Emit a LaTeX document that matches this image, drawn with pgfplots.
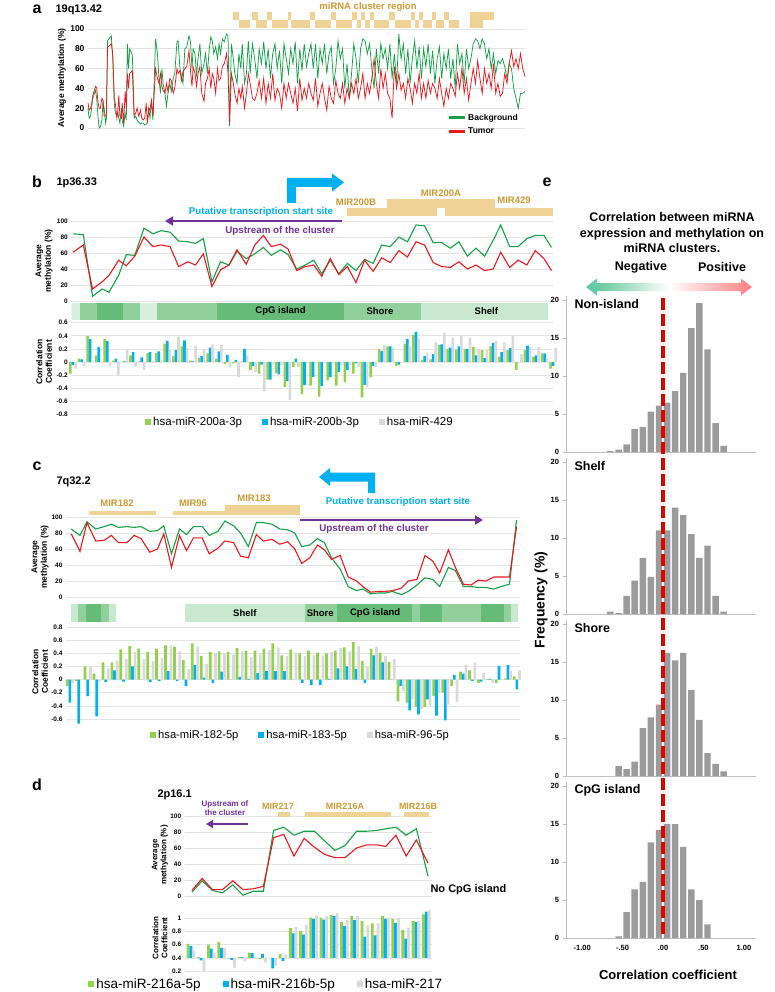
\documentclass[border=0pt]{standalone}
\usepackage{pgfplots}
\pgfplotsset{compat=1.18}
\usepackage{pgfplotstable}
\usepackage{fontspec}
\setmainfont{Liberation Sans}
\usetikzlibrary{arrows.meta}

\definecolor{lgreen}{RGB}{20,160,70}
\definecolor{lred}{RGB}{235,25,30}
\definecolor{bargreen}{RGB}{146,208,80}
\definecolor{barblue}{RGB}{0,176,240}
\definecolor{bargray}{RGB}{217,217,217}
\definecolor{goldfill}{RGB}{240,210,150}
\definecolor{goldtext}{RGB}{204,153,51}
\definecolor{arrowblue}{RGB}{0,176,240}
\definecolor{purp}{RGB}{112,48,160}
\definecolor{gridc}{RGB}{228,228,228}
\definecolor{bD}{RGB}{102,187,121}
\definecolor{bM}{RGB}{145,207,157}
\definecolor{bL}{RGB}{200,232,208}
\definecolor{bVL}{RGB}{218,240,223}
\definecolor{histg}{RGB}{155,155,155}
\definecolor{axg}{RGB}{190,190,190}
\definecolor{mint}{RGB}{110,205,160}

\newcommand{\fs}[2]{\fontsize{#1}{#2}\selectfont}
\newcommand{\seg}[3]{\addplot[fill=#3, draw=none] coordinates {(#1,0)(#2,0)(#2,1)(#1,1)};}
\newcommand{\blk}[4]{\addplot[fill=goldfill, draw=none] coordinates {(#1,#3)(#2,#3)(#2,#4)(#1,#4)};}
\pgfdeclarehorizontalshading{gradarrow}{100bp}{color(0bp)=(arrowblue); color(30bp)=(mint); color(50bp)=(white); color(100bp)=(red)}

\pgfplotsset{
  place/.style n args={4}{scale only axis, at={(#1pt,-#2pt)}, anchor=north west, width=#3pt, height=#4pt},
  every axis/.append style={/pgf/number format/assume math mode=true},
  lineax/.style={axis line style={draw=none}, tick style={draw=none}, major tick length=0pt,
    xtick=\empty, ymajorgrids, grid style={gridc, line width=0.6pt}, ymin=0, ymax=100,
    ytick={0,20,40,60,80,100}, clip=false},
  barax/.style={axis line style={draw=none}, tick style={draw=none}, major tick length=0pt,
    xtick=\empty, ymajorgrids, grid style={gridc, line width=0.6pt}, ybar=0pt, clip=false},
  histax/.style={xmin=-1.2, xmax=1.15, ymin=0, ymax=20.5, ytick={0,5,10,15,20},
    axis x line*=bottom, axis y line*=left, axis line style={axg, -, line width=0.6pt},
    ytick style={axg, line width=0.6pt}, tick align=outside, major tick length=3.5pt,
    xtick=\empty, x tick style={draw=none}, ybar, bar width=0.08,
    yticklabel style={font=\bfseries\fs{7.5}{9}}},
}

% panel a: average methylation along 19q13.42
\pgfplotstableread{
x g r
258 20 25
261 10 18
265 12 20
268 22 25
271 30 33
275 35 38
278 38 42
281 30 41
285 10 25
288 0 20
291 1 20
295 8 30
298 27 28
301 20 12
305 5 12
307 10 15
310 88 82
315 91 83
320 93 85
324 70 75
328 25 30
331 15 24
335 12 10
338 15 20
340 10 33
343 5 12
347 20 10
349 8 25
353 2 5
357 15 37
360 8 20
363 85 55
366 60 40
369 80 55
376 74 58
379 40 30
381 10 13
385 12 15
389 8 20
393 6 12
398 4 18
401 5 10
405 5 8
409 3 10
413 4 25
416 5 5
420 20 20
423 10 18
427 27 28
431 8 12
438 90 60
443 75 50
447 50 45
451 35 55
455 60 42
458 45 38
463 35 35
467 22 45
471 35 37
476 45 50
480 37 48
485 50 35
489 55 40
495 87 60
498 88 55
503 60 58
507 52 48
511 45 57
516 80 60
521 82 62
527 93 78
531 87 58
535 60 42
538 80 62
543 75 55
547 52 42
551 70 55
556 85 62
561 55 35
567 65 27
571 75 45
576 55 50
581 80 60
585 92 40
589 88 55
593 75 50
598 82 35
603 70 60
607 85 48
611 75 50
616 90 62
621 87 65
627 95 75
631 93 55
635 2 5
640 85 55
645 70 45
649 55 35
655 45 25
660 75 40
665 60 30
669 85 42
675 45 20
680 55 35
685 88 55
690 55 45
696 85 30
702 70 28
708 50 35
714 80 48
720 65 30
726 87 50
732 60 25
738 80 45
744 50 30
750 75 55
756 85 28
762 60 40
768 78 35
774 45 20
780 85 45
786 70 30
792 55 45
798 80 35
804 65 25
810 87 40
816 45 17
822 80 50
828 58 28
834 85 40
840 62 30
846 75 45
852 85 35
858 60 28
864 85 50
870 50 22
876 80 35
882 65 45
888 85 30
894 55 18
900 75 42
906 82 30
912 45 25
918 60 48
924 88 35
930 70 30
936 80 45
942 40 25
948 65 40
954 30 30
960 55 45
966 85 35
972 70 50
978 45 30
984 80 40
990 90 55
996 88 30
1002 75 45
1008 85 35
1014 60 50
1020 40 70
1026 80 45
1032 55 30
1038 85 60
1044 70 40
1050 80 55
1056 60 35
1062 85 30
1068 50 10
1074 75 62
1080 45 40
1086 95 55
1092 70 38
1098 85 45
1104 55 30
1110 80 50
1116 45 40
1122 70 25
1128 88 45
1134 60 35
1140 82 55
1146 50 30
1152 80 45
1158 62 30
1164 85 48
1170 55 35
1176 78 45
1182 45 40
1188 70 30
1194 82 50
1200 50 35
1206 75 22
1212 60 40
1218 80 30
1224 50 45
1230 70 40
1236 40 32
1242 85 55
1248 65 40
1254 75 60
1260 45 35
1266 80 50
1272 60 28
1278 70 45
1284 85 60
1290 90 45
1296 88 68
1302 80 50
1308 90 35
1314 85 60
1320 70 45
1326 80 55
1332 60 40
1338 75 65
1344 55 35
1350 68 45
1356 65 32
1362 70 35
1368 62 55
1374 50 45
1380 65 65
1386 60 78
1392 40 62
1398 30 70
1404 20 60
1410 35 75
1416 35 60
1422 37 52
}\tA

% panel b: 1p36.33
\pgfplotstableread{
x g r
135 84 61
165 83 70
192 6 15
220 15 24
240 11 32
268 32 51
290 58 44
315 57 56
342 91 80
368 84 68
392 88 70
418 86 68
443 75 43
470 74 49
492 72 45
515 78 59
540 24 18
565 49 39
590 45 45
613 62 64
640 53 46
665 59 70
690 67 82
713 57 68
740 64 71
762 58 65
787 40 38
812 45 43
837 51 45
860 34 31
885 51 53
910 34 33
935 47 43
960 38 23
985 52 51
1010 47 37
1035 70 54
1060 68 48
1085 80 63
1110 74 55
1135 95 74
1160 94 70
1185 73 48
1210 73 43
1235 66 42
1260 74 49
1285 56 40
1310 66 45
1335 56 38
1360 76 40
1382 95 61
1408 68 42
1433 68 51
1458 78 45
1483 82 63
1508 82 53
1530 67 38
}\tB

\pgfplotstableread{
k g b w
0 -0.18 -0.05 -0.10
1 0.05 0.04 -0.06
2 0.40 0.35 0.00
3 0.10 0.23 0.00
4 0.35 0.32 -0.06
5 0.02 0.05 -0.21
6 0.00 0.01 0.19
7 0.10 0.15 -0.07
8 0.01 0.07 -0.12
9 0.14 0.15 0.02
10 0.14 0.16 0.02
11 0.28 0.32 0.20
12 0.09 0.18 0.38
13 0.24 0.33 0.22
14 0.02 0.01 0.25
15 0.06 0.09 0.20
16 0.13 0.22 0.27
17 0.05 0.16 0.26
18 -0.03 0.11 -0.07
19 -0.02 0.03 -0.23
20 0.01 0.20 0.10
21 -0.12 -0.06 -0.15
22 -0.18 -0.04 -0.45
23 -0.27 -0.27 -0.03
24 -0.17 -0.19 -0.05
25 -0.38 -0.29 -0.58
26 -0.08 0.05 -0.08
27 -0.49 -0.35 -0.02
28 -0.36 -0.23 -0.02
29 -0.53 -0.37 -0.02
30 -0.28 -0.23 -0.02
31 -0.36 -0.15 -0.05
32 -0.31 -0.12 -0.05
33 -0.18 -0.02 -0.07
34 -0.54 -0.35 -0.39
35 -0.23 -0.06 -0.08
36 0.20 0.17 0.26
37 0.24 0.24 0.22
38 -0.06 -0.04 0.00
39 0.28 0.35 0.25
40 0.41 0.46 0.36
41 0.03 0.09 0.14
42 0.04 0.12 0.30
43 0.26 0.27 0.45
44 0.20 0.22 0.37
45 0.19 0.24 0.40
46 0.20 0.20 0.37
47 0.23 0.10 0.20
48 0.18 0.06 0.18
49 0.24 0.29 0.32
50 0.08 0.15 0.30
51 0.18 0.21 0.40
52 -0.12 0.00 0.12
53 0.18 0.25 0.23
54 0.08 0.10 0.23
55 0.13 0.13 0.06
56 -0.10 -0.06 0.22
}\tBb

% panel c: 7q32.2
\pgfplotstableread{
x g r
165 85 79
190 77 57
210 94 93
235 85 70
260 88 71
280 91 77
300 87 68
325 88 68
345 87 77
365 88 73
390 82 56
412 83 60
430 89 79
452 54 37
475 85 77
495 78 58
515 88 74
540 88 74
560 77 54
585 82 61
605 95 70
630 89 68
650 80 51
672 63 49
695 93 78
715 93 70
740 91 72
762 85 66
785 84 69
805 80 60
825 63 42
848 65 49
870 73 65
890 68 59
910 49 47
935 35 52
958 13 25
982 8 20
1000 10 13
1022 4 6
1045 5 7
1065 5 7
1085 7 8
1110 3 11
1130 7 20
1155 15 22
1178 24 52
1200 22 45
1220 13 30
1245 37 59
1265 33 37
1288 13 16
1310 13 15
1330 12 21
1352 12 20
1375 10 25
1395 13 25
1420 16 25
1440 96 88
}\tC

\pgfplotstableread{
k g b w
0 -0.10 -0.35 -0.05
1 -0.02 -0.67 0.00
2 0.20 -0.25 0.19
3 0.09 -0.56 -0.03
4 0.26 -0.04 0.17
5 0.26 0.14 0.29
6 0.46 -0.03 0.31
7 0.51 0.20 0.42
8 0.47 0.00 0.31
9 0.42 -0.04 0.28
10 0.47 -0.02 0.33
11 0.52 0.13 0.52
12 0.50 -0.02 0.43
13 0.30 -0.10 0.16
14 0.55 0.22 0.50
15 0.36 0.03 0.24
16 0.42 -0.05 0.40
17 0.43 0.12 0.40
18 0.42 0.00 0.38
19 0.48 0.04 0.43
20 0.44 0.01 0.34
21 0.44 0.10 0.39
22 0.47 0.13 0.45
23 0.55 0.13 0.49
24 0.37 0.13 0.36
25 0.46 0.00 0.41
26 0.40 -0.05 0.36
27 0.44 -0.08 0.37
28 0.41 -0.08 0.37
29 0.40 0.01 0.42
30 0.44 0.17 0.48
31 0.49 0.20 0.43
32 0.57 0.16 0.51
33 0.28 -0.05 0.20
34 0.47 0.37 0.50
35 0.41 0.26 0.36
36 0.27 0.00 0.31
37 -0.33 -0.10 -0.18
38 -0.35 -0.47 -0.30
39 -0.42 -0.53 -0.45
40 -0.42 -0.30 -0.40
41 -0.25 -0.55 -0.20
42 -0.20 -0.62 -0.38
43 -0.10 0.07 -0.34
44 0.12 0.09 0.22
45 0.14 -0.02 0.26
46 -0.05 -0.03 0.10
47 0.01 0.01 -0.05
48 -0.05 0.21 0.00
49 0.02 0.22 0.13
50 0.05 -0.15 0.14
}\tCb

% panel d: 2p16.1
\pgfplotstableread{
x g r
365 5 7
400 19 22
435 7 8
470 4 8
505 14 19
540 1 8
575 6 9
610 6 12
645 82 73
680 86 77
715 76 50
750 81 72
785 81 61
820 69 52
855 57 48
890 63 48
930 81 60
965 81 64
1000 82 64
1030 84 62
1065 86 76
1100 76 50
1135 84 70
1175 25 41
}\tD

\pgfplotstableread{
k g b w
0 0.61 0.58 0.51
1 0.41 0.36 0.20
2 0.60 0.54 0.47
3 0.64 0.55 0.55
4 0.39 0.37 0.25
5 0.41 0.41 0.35
6 0.48 0.47 0.38
7 0.38 0.46 0.33
8 0.40 0.24 0.28
9 0.46 0.35 0.45
10 0.85 0.77 0.87
11 0.81 0.75 0.90
12 1.01 0.99 1.03
13 1.01 0.98 1.03
14 1.05 1.03 1.08
15 0.94 0.88 0.97
16 1.03 0.97 1.03
17 0.96 0.72 0.89
18 0.92 0.74 0.92
19 1.03 0.99 1.00
20 0.99 0.93 1.00
21 0.82 0.69 0.85
22 0.96 0.94 0.96
23 1.06 1.10 1.12
}\tDb

% panel e: histograms of correlation coefficients
\pgfplotstableread{
c f
-0.65 0.1
-0.55 0.3
-0.45 1.0
-0.35 3.0
-0.25 3.3
-0.15 5.3
-0.05 6.1
0.05 6.5
0.15 8.0
0.25 10.4
0.35 16.3
0.45 19.6
0.55 13.5
0.65 3.8
0.75 0.8
}\tEn
\pgfplotstableread{
c f
-0.65 0.3
-0.55 0.1
-0.45 2.4
-0.35 4.4
-0.25 7.4
-0.15 4.9
-0.05 11.0
0.05 11.0
0.15 14.0
0.25 13.0
0.35 10.5
0.45 7.4
0.55 9.0
0.65 2.4
0.75 0.3
}\tEs
\pgfplotstableread{
c f
-0.55 1.3
-0.45 0.9
-0.35 1.9
-0.25 6.3
-0.15 7.7
-0.05 9.4
0.05 16.2
0.15 15.2
0.25 16.2
0.35 11.3
0.45 7.4
0.55 3.0
0.65 1.6
0.75 0.6
}\tEh
\pgfplotstableread{
c f
-0.55 0.2
-0.45 3.4
-0.35 6.4
-0.25 7.4
-0.15 12.6
-0.05 14.2
0.05 15.0
0.15 15.0
0.25 12.0
0.35 6.4
0.45 5.0
0.55 1.8
}\tEc

\begin{document}
\begin{tikzpicture}
\useasboundingbox (0pt,0pt) rectangle (774pt,-992pt);

% ---------------- a
\begin{axis}[place={88}{29}{437}{99}, lineax, xmin=258, xmax=1422,
  yticklabel style={font=\bfseries\fs{8.5}{10}},
  legend style={at={(0.8215,0.165)}, anchor=north west, draw=none, fill=none,
    font=\bfseries\fs{8.5}{10}, inner sep=0pt, row sep=2pt},
  legend image code/.code={\draw[#1, line width=3pt] (0pt,0pt) -- (16pt,0pt);},
  legend cell align=left]
\addplot[lgreen, line width=0.75pt] table[x=x, y=g] {\tA};
\addplot[lred, line width=0.75pt] table[x=x, y=r] {\tA};
\legend{Background, Tumor}
\blk{645}{660}{109}{117}\blk{695}{710}{109}{117}\blk{735}{748}{109}{117}
\blk{790}{800}{109}{117}\blk{850}{862}{109}{117}\blk{905}{918}{109}{117}
\blk{960}{975}{109}{117}\blk{985}{995}{109}{117}\blk{1010}{1020}{109}{117}
\blk{1060}{1075}{109}{117}\blk{1118}{1130}{109}{117}\blk{1140}{1150}{109}{117}
\blk{1175}{1185}{109}{117}\blk{1205}{1220}{109}{117}\blk{1275}{1340}{109}{117}
\blk{660}{690}{101}{109}\blk{705}{735}{101}{109}\blk{748}{790}{101}{109}
\blk{800}{850}{101}{109}\blk{862}{905}{101}{109}\blk{918}{960}{101}{109}
\blk{975}{985}{101}{109}\blk{995}{1010}{101}{109}\blk{1020}{1060}{101}{109}
\blk{1075}{1118}{101}{109}\blk{1130}{1140}{101}{109}\blk{1150}{1175}{101}{109}
\blk{1185}{1205}{101}{109}\blk{1220}{1245}{101}{109}\blk{1275}{1310}{101}{109}
\end{axis}

% ---------------- b
\begin{axis}[place={71.3}{221}{481.9}{80}, lineax, xmin=130, xmax=1535,
  yticklabel style={font=\bfseries\fs{6.5}{8}}]
\blk{935}{1195}{106.25}{116.25}\blk{1220}{1535}{106.25}{116.25}
\blk{1050}{1365}{116.25}{127.5}
\addplot[lgreen, line width=1.1pt] table[x=x, y=g] {\tB};
\addplot[lred, line width=1.1pt] table[x=x, y=r] {\tB};
\end{axis}
\begin{axis}[place={71.3}{303}{481.9}{17}, hide axis, xmin=130, xmax=1535, ymin=0, ymax=1]
\seg{130}{155}{bVL}\seg{155}{205}{bM}\seg{205}{280}{bD}\seg{280}{330}{bM}
\seg{330}{380}{bVL}\seg{380}{555}{bM}\seg{555}{925}{bD}\seg{925}{1150}{bM}\seg{1150}{1520}{bL}
\node[font=\bfseries\fs{9.5}{11}] at (axis cs:740,0.5) {CpG island};
\node[font=\bfseries\fs{9.5}{11}] at (axis cs:1030,0.5) {Shore};
\node[font=\bfseries\fs{9.5}{11}] at (axis cs:1340,0.5) {Shelf};
\end{axis}
\begin{axis}[place={71.3}{322.7}{481.9}{91.6}, barax, bar width=0.3,
  xmin=-0.2, xmax=56, ymin=-0.8, ymax=0.6,
  ytick={-0.8,-0.6,-0.4,-0.2,0,0.2,0.4,0.6},
  yticklabels={-0.8,-0.6,-0.4,-0.2,0,0.2,0.4,0.6},
  yticklabel style={font=\bfseries\fs{6.5}{8}},
  legend style={at={(0.153,-0.085)}, anchor=west, draw=none, fill=none,
    font=\fs{11.5}{13}, inner sep=0pt, legend columns=-1,
    /tikz/every even column/.append style={column sep=18pt}},
  legend image code/.code={\fill[#1] (0pt,-3pt) rectangle (6pt,3pt);}]
\addplot[fill=bargreen, draw=none] table[x=k, y=g] {\tBb};
\addplot[fill=barblue, draw=none] table[x=k, y=b] {\tBb};
\addplot[fill=bargray, draw=none] table[x=k, y=w] {\tBb};
\legend{hsa-miR-200a-3p, hsa-miR-200b-3p, hsa-miR-429}
\end{axis}

% ---------------- c
\begin{axis}[place={66}{517}{454}{80}, lineax, xmin=150, xmax=1450,
  yticklabel style={font=\bfseries\fs{6.5}{8}}]
\blk{215}{408}{102}{108}\blk{455}{820}{102}{108}\blk{605}{820}{108}{115.5}
\addplot[lgreen, line width=1.1pt] table[x=x, y=g] {\tC};
\addplot[lred, line width=1.1pt] table[x=x, y=r] {\tC};
\end{axis}
\begin{axis}[place={66}{604}{454}{18}, hide axis, xmin=150, xmax=1450, ymin=0, ymax=1]
\seg{163}{185}{bL}\seg{185}{207}{bM}\seg{207}{250}{bD}\seg{250}{272}{bM}\seg{272}{293}{bL}
\seg{490}{835}{bL}\seg{835}{925}{bM}\seg{925}{1140}{bD}\seg{1140}{1163}{bM}\seg{1163}{1228}{bD}
\seg{1228}{1338}{bM}\seg{1338}{1403}{bD}\seg{1403}{1425}{bM}\seg{1425}{1445}{bL}
\node[font=\bfseries\fs{9.5}{11}] at (axis cs:662,0.5) {Shelf};
\node[font=\bfseries\fs{9.5}{11}] at (axis cs:878,0.5) {Shore};
\node[font=\bfseries\fs{9.5}{11}] at (axis cs:1035,0.5) {CpG island};
\end{axis}
\begin{axis}[place={66}{627}{454}{92}, barax, bar width=0.3,
  xmin=-0.43, xmax=50.35, ymin=-0.6, ymax=0.8,
  ytick={-0.6,-0.4,-0.2,0,0.2,0.4,0.6,0.8},
  yticklabels={-0.6,-0.4,-0.2,0,0.2,0.4,0.6,0.8},
  yticklabel style={font=\bfseries\fs{6.5}{8}},
  legend style={at={(0.185,-0.174)}, anchor=west, draw=none, fill=none,
    font=\fs{11.2}{13}, inner sep=0pt, legend columns=-1,
    /tikz/every even column/.append style={column sep=18pt}},
  legend image code/.code={\fill[#1] (0pt,-3pt) rectangle (6pt,3pt);}]
\addplot[fill=bargreen, draw=none] table[x=k, y=g] {\tCb};
\addplot[fill=barblue, draw=none] table[x=k, y=b] {\tCb};
\addplot[fill=bargray, draw=none] table[x=k, y=w] {\tCb};
\legend{hsa-miR-182-5p, hsa-miR-183-5p, hsa-miR-96-5p}
\end{axis}

% ---------------- d
\begin{axis}[place={184.7}{816}{247.7}{80}, lineax, xmin=340, xmax=1190,
  yticklabel style={font=\bfseries\fs{6.5}{8}}]
\blk{660}{700}{99}{105}\blk{752}{1048}{99}{105}\blk{1092}{1178}{99}{105}
\addplot[lgreen, line width=1.1pt] table[x=x, y=g] {\tD};
\addplot[lred, line width=1.1pt] table[x=x, y=r] {\tD};
\end{axis}
\begin{axis}[place={184.7}{905}{247.7}{66}, barax, bar width=0.28,
  xmin=-0.6, xmax=23.6, ymin=-0.2, ymax=0.8,
  ytick={-0.2,0,0.2,0.4,0.6}, yticklabels={0.2,0.4,0.6,0.8,1},
  yticklabel style={font=\bfseries\fs{6.5}{8}},
  legend style={at={(-0.39,-0.197)}, anchor=west, draw=none, fill=none,
    font=\fs{13.5}{15}, inner sep=0pt, legend columns=-1,
    /tikz/every even column/.append style={column sep=20pt}},
  legend image code/.code={\fill[#1] (0pt,-3pt) rectangle (6pt,3pt);}]
\addplot[fill=bargreen, draw=none] table[x=k, y expr=\thisrow{g}-0.4] {\tDb};
\addplot[fill=barblue, draw=none] table[x=k, y expr=\thisrow{b}-0.4] {\tDb};
\addplot[fill=bargray, draw=none] table[x=k, y expr=\thisrow{w}-0.4] {\tDb};
\legend{hsa-miR-216a-5p, hsa-miR-216b-5p, hsa-miR-217}
\end{axis}

% ---------------- e
\begin{axis}[place={566}{296.2}{190}{155.8}, histax]
\addplot[fill=histg, draw=none] table[x=c, y=f] {\tEn};
\end{axis}
\begin{axis}[place={566}{458.2}{190}{155.8}, histax]
\addplot[fill=histg, draw=none] table[x=c, y=f] {\tEs};
\end{axis}
\begin{axis}[place={566}{620.2}{190}{155.8}, histax]
\addplot[fill=histg, draw=none] table[x=c, y=f] {\tEh};
\end{axis}
\begin{axis}[place={566}{782.2}{190}{155.8}, histax,
  xtick={-1,-0.5,0,0.5,1}, xticklabels={-1.00,-.50,.00,.50,1.00},
  xticklabel style={font=\bfseries\fs{7.5}{9}}]
\addplot[fill=histg, draw=none] table[x=c, y=f] {\tEc};
\end{axis}

\begin{scope}[x=1pt, y=-1pt]
% panel a text
\node[font=\bfseries\fs{16}{18}] at (37,9) {a};
\node[font=\bfseries\fs{11}{13}, anchor=west] at (52,10) {19q13.42};
\node[font=\bfseries\fs{9.5}{11}, text=goldtext] at (368,7) {miRNA cluster region};
\node[font=\bfseries\fs{8.5}{10}, rotate=90] at (62,78) {Average methylation (\%)};

% panel b text
\node[font=\bfseries\fs{16}{18}] at (37,182) {b};
\node[font=\bfseries\fs{11}{13}, anchor=west] at (53,183) {1p36.33};
\fill[arrowblue] (287,203) -- (287,178) -- (332,178) -- (332,173.5) -- (344,182.5) -- (332,191.5) -- (332,187) -- (296,187) -- (296,203) -- cycle;
\node[font=\bfseries\fs{9.5}{11}, text=goldtext] at (356,202) {MIR200B};
\node[font=\bfseries\fs{9.5}{11}, text=goldtext] at (441,193) {MIR200A};
\node[font=\bfseries\fs{9.5}{11}, text=goldtext] at (514,200) {MIR429};
\node[font=\bfseries\fs{9.8}{11}, text=arrowblue] at (261,212) {Putative transcription start site};
\draw[purp, line width=2.2pt, -{Triangle[length=8pt, width=9pt]}] (342,221) -- (165,221);
\node[font=\bfseries\fs{9.8}{11}, text=purp] at (280,231) {Upstream of the cluster};
\node[font=\bfseries\fs{8.5}{9.5}, rotate=90, align=center] at (44,261) {Average\\methylation (\%)};
\node[font=\bfseries\fs{8.5}{9.5}, rotate=90, align=center] at (44,362) {Correlation\\Coefficient};

% panel c text
\node[font=\bfseries\fs{16}{18}] at (37,466) {c};
\node[font=\bfseries\fs{11}{13}, anchor=west] at (53,482) {7q32.2};
\fill[arrowblue] (375,493) -- (375,472.5) -- (330,472.5) -- (330,468) -- (319,477) -- (330,486) -- (330,481.5) -- (368,481.5) -- (368,493) -- cycle;
\node[font=\bfseries\fs{9.8}{11}, text=arrowblue] at (398,502) {Putative transcription start site};
\node[font=\bfseries\fs{9.5}{11}, text=goldtext] at (117,503) {MIR182};
\node[font=\bfseries\fs{9.5}{11}, text=goldtext] at (193,503) {MIR96};
\node[font=\bfseries\fs{9.5}{11}, text=goldtext] at (254,498) {MIR183};
\draw[purp, line width=2.2pt, -{Triangle[length=8pt, width=9pt]}] (300,520) -- (483,520);
\node[font=\bfseries\fs{9.8}{11}, text=purp] at (374,529) {Upstream of the cluster};
\node[font=\bfseries\fs{8.5}{9.5}, rotate=90, align=center] at (40,557) {Average\\methylation (\%)};
\node[font=\bfseries\fs{8.5}{9.5}, rotate=90, align=center] at (40,672) {Correlation\\Coefficient};

% panel d text
\node[font=\bfseries\fs{16}{18}] at (37,785) {d};
\node[font=\bfseries\fs{11}{13}, anchor=west] at (154,795) {2p16.1};
\node[font=\bfseries\fs{8}{9.5}, text=purp, align=center] at (225,808) {Upstream of\\the cluster};
\draw[purp, line width=2.2pt, -{Triangle[length=7pt, width=8pt]}] (248,824) -- (206,824);
\node[font=\bfseries\fs{9}{11}, text=goldtext] at (278,806) {MIR217};
\node[font=\bfseries\fs{9}{11}, text=goldtext] at (345,806) {MIR216A};
\node[font=\bfseries\fs{9}{11}, text=goldtext] at (418,806) {MIR216B};
\node[font=\bfseries\fs{11}{13}, anchor=west] at (427,890) {No CpG island};
\node[font=\bfseries\fs{8}{9}, rotate=90, align=center] at (160,855) {Average\\methylation (\%)};
\node[font=\bfseries\fs{8}{9}, rotate=90, align=center] at (160,938) {Correlation\\Coefficient};

% panel e text
\node[font=\bfseries\fs{16}{18}] at (547,182) {e};
\node[font=\bfseries\fs{12.5}{15.5}, align=center] at (672,233) {Correlation between miRNA\\expression and methylation on\\miRNA clusters.};
\node[font=\bfseries\fs{12.5}{15}] at (641,267) {Negative};
\node[font=\bfseries\fs{12.5}{15}] at (722,267) {Positive};
\shade[shading=gradarrow] (586,287) -- (597,278.5) -- (597,283) -- (741,283) -- (741,278.5) -- (752,287) -- (741,295.5) -- (741,291) -- (597,291) -- (597,295.5) -- cycle;
\node[font=\bfseries\fs{12.5}{15}, anchor=west] at (571,304) {Non-island};
\node[font=\bfseries\fs{12.5}{15}, anchor=west] at (571,466) {Shelf};
\node[font=\bfseries\fs{12.5}{15}, anchor=west] at (571,628) {Shore};
\node[font=\bfseries\fs{12.5}{15}, anchor=west] at (571,790) {CpG island};
\node[font=\bfseries\fs{14}{16}, rotate=90] at (541,600) {Frequency (\%)};
\node[font=\bfseries\fs{13}{15}] at (668,975) {Correlation coefficient};
\draw[red!90!black, line width=4pt, dash pattern=on 12pt off 4pt] (663,298) -- (663,938);
\end{scope}
\end{tikzpicture}
\end{document}
